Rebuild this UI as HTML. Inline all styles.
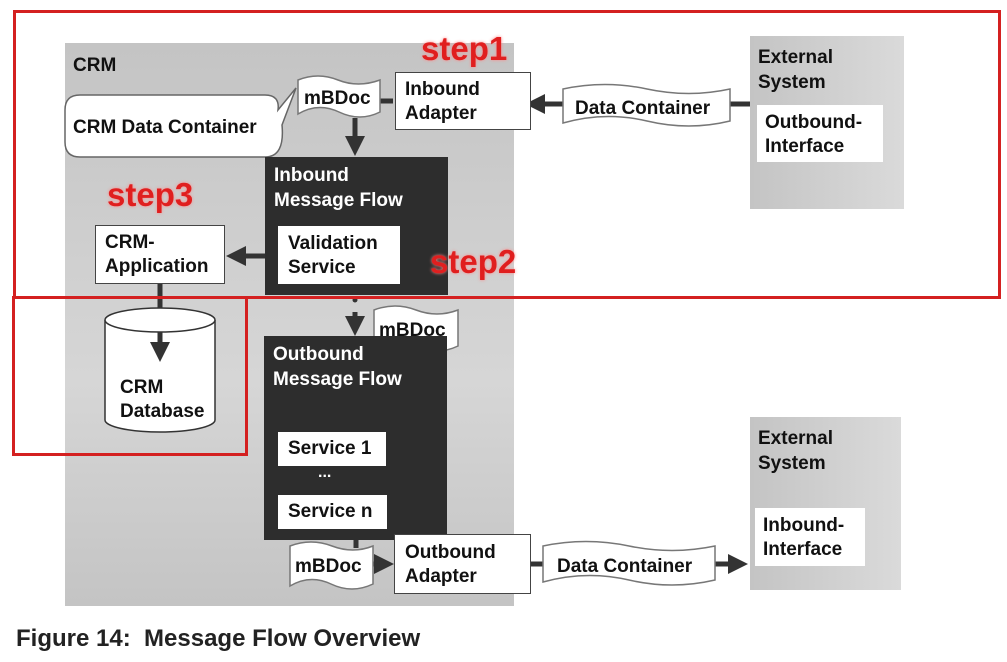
<!DOCTYPE html>
<html><head><meta charset="utf-8"><style>
body{margin:0;width:1007px;height:662px;background:#fff;position:relative;overflow:hidden;font-family:"Liberation Sans",Arial,sans-serif}
.a{position:absolute;box-sizing:border-box}
.w{background:#fff;border:1px solid #444;color:#111;font-size:19px;line-height:24px;font-weight:bold}
.d{background:#2d2d2d;color:#fff;font-size:19px;line-height:25px;font-weight:bold}
.t{font-size:19px;line-height:24px;color:#111;font-weight:bold}
.r{color:#e01f1f;font-weight:bold;font-size:33px;text-shadow:0 0 3px #f88}
.bx{border:3px solid #d42020}
</style></head><body>
<div class="a" style="left:65px;top:43px;width:449px;height:563px;background:linear-gradient(#c4c4c4,#d6d6d6 60%,#c4c4c4)"></div>
<div class="a" style="left:750px;top:36px;width:154px;height:173px;background:linear-gradient(90deg,#c4c4c4,#dadada)"></div>
<div class="a" style="left:750px;top:417px;width:151px;height:173px;background:linear-gradient(90deg,#c4c4c4,#dadada)"></div>
<div class="a t" style="left:73px;top:54px">CRM</div>
<div class="a t" style="left:758px;top:45px;line-height:25px">External<br>System</div>
<div class="a t" style="left:758px;top:426px;line-height:25px">External<br>System</div>
<div class="a w" style="left:757px;top:105px;width:126px;height:57px;border:none;padding:6px 8px">Outbound-<br>Interface</div>
<div class="a w" style="left:755px;top:508px;width:110px;height:58px;border:none;padding:6px 8px">Inbound-<br>Interface</div>

<svg class="a" style="left:0;top:0" width="1007" height="662">
<defs><marker id="m" markerWidth="4" markerHeight="4" refX="2" refY="2" orient="auto"><path d="M0,0L4,2L0,4z" fill="#333"/></marker></defs>
<g stroke="#333" stroke-width="5" fill="none">
<line x1="750" y1="104" x2="535" y2="104" marker-end="url(#m)"/>
<line x1="393" y1="101" x2="380" y2="101"/>
<line x1="355" y1="118" x2="355" y2="146" marker-end="url(#m)"/>
<line x1="278" y1="256" x2="236" y2="256" marker-end="url(#m)"/>
<line x1="160" y1="284" x2="160" y2="352" marker-end="url(#m)"/>
<line x1="355" y1="312" x2="355" y2="326" marker-end="url(#m)"/>
<line x1="356" y1="540" x2="356" y2="548"/>
<line x1="373" y1="564" x2="384" y2="564" marker-end="url(#m)"/>
<line x1="530" y1="564" x2="545" y2="564"/>
<line x1="715" y1="564" x2="738" y2="564" marker-end="url(#m)"/>
</g>
<circle cx="355" cy="300" r="2.5" fill="#333"/>
<path d="M105,320 L105,420 A55,12 0 0 0 215,420 L215,320" fill="#fff" stroke="#333" stroke-width="1.5"/>
<ellipse cx="160" cy="320" rx="55" ry="12" fill="#fff" stroke="#333" stroke-width="1.5"/>
<line x1="160" y1="332" x2="160" y2="352" stroke="#333" stroke-width="5" marker-end="url(#m)"/>
<path d="M80,95 L265,95 Q280,95 278,110 L296,88 L282,125 Q285,157 265,157 L80,157 Q65,157 65,142 L65,110 Q65,95 80,95z" fill="#fff" stroke="#666" stroke-width="1.5"/>
<g fill="#fff" stroke="#777" stroke-width="1.5">
<path d="M298,80 Q318,72 338,80 T380,80 L380,112 Q360,122 339,112 T298,114z"/>
<path d="M374,310 Q395,302 416,310 T458,310 L458,346 Q437,356 416,346 T374,348z"/>
<path d="M290,546 Q311,538 332,546 T373,546 L373,584 Q352,594 331,584 T290,586z"/>
<path d="M563,89 Q605,80 647,89 T730,89 L730,121 Q689,131 647,121 T563,123z"/>
<path d="M543,546 Q586,537 629,546 T715,546 L715,580 Q672,590 629,580 T543,582z"/>
</g>
</svg>

<div class="a t" style="left:73px;top:116px;font-size:19px">CRM Data Container</div>
<div class="a t" style="left:304px;top:87px">mBDoc</div>
<div class="a t" style="left:379px;top:319px">mBDoc</div>
<div class="a t" style="left:295px;top:555px">mBDoc</div>
<div class="a t" style="left:575px;top:97px">Data Container</div>
<div class="a t" style="left:557px;top:555px">Data Container</div>
<div class="a t" style="left:120px;top:376px;line-height:24px">CRM<br>Database</div>

<div class="a w" style="left:395px;top:72px;width:136px;height:58px;padding:5px 9px">Inbound<br>Adapter</div>
<div class="a w" style="left:95px;top:225px;width:130px;height:59px;padding:5px 9px">CRM-<br>Application</div>
<div class="a d" style="left:265px;top:157px;width:183px;height:138px;padding:6px 9px">Inbound<br>Message Flow</div>
<div class="a w" style="left:278px;top:226px;width:122px;height:58px;border:none;padding:6px 10px">Validation<br>Service</div>
<div class="a d" style="left:264px;top:336px;width:183px;height:204px;padding:6px 9px">Outbound<br>Message Flow</div>
<div class="a w" style="left:278px;top:432px;width:108px;height:34px;border:none;padding:5px 10px">Service 1</div>
<div class="a" style="left:318px;top:464px;color:#fff;font-size:16px;font-weight:bold">...</div>
<div class="a w" style="left:278px;top:495px;width:109px;height:34px;border:none;padding:5px 10px">Service n</div>
<div class="a w" style="left:394px;top:534px;width:137px;height:60px;padding:6px 10px">Outbound<br>Adapter</div>

<div class="a bx" style="left:13px;top:10px;width:988px;height:289px"></div>
<div class="a bx" style="left:12px;top:296px;width:236px;height:160px"></div>
<div class="a r" style="left:421px;top:30px">step1</div>
<div class="a r" style="left:107px;top:176px">step3</div>
<div class="a r" style="left:430px;top:243px">step2</div>

<div class="a" style="left:16px;top:625px;font-size:24px;font-weight:bold;color:#222">Figure 14:&nbsp; Message Flow Overview</div>
</body></html>
